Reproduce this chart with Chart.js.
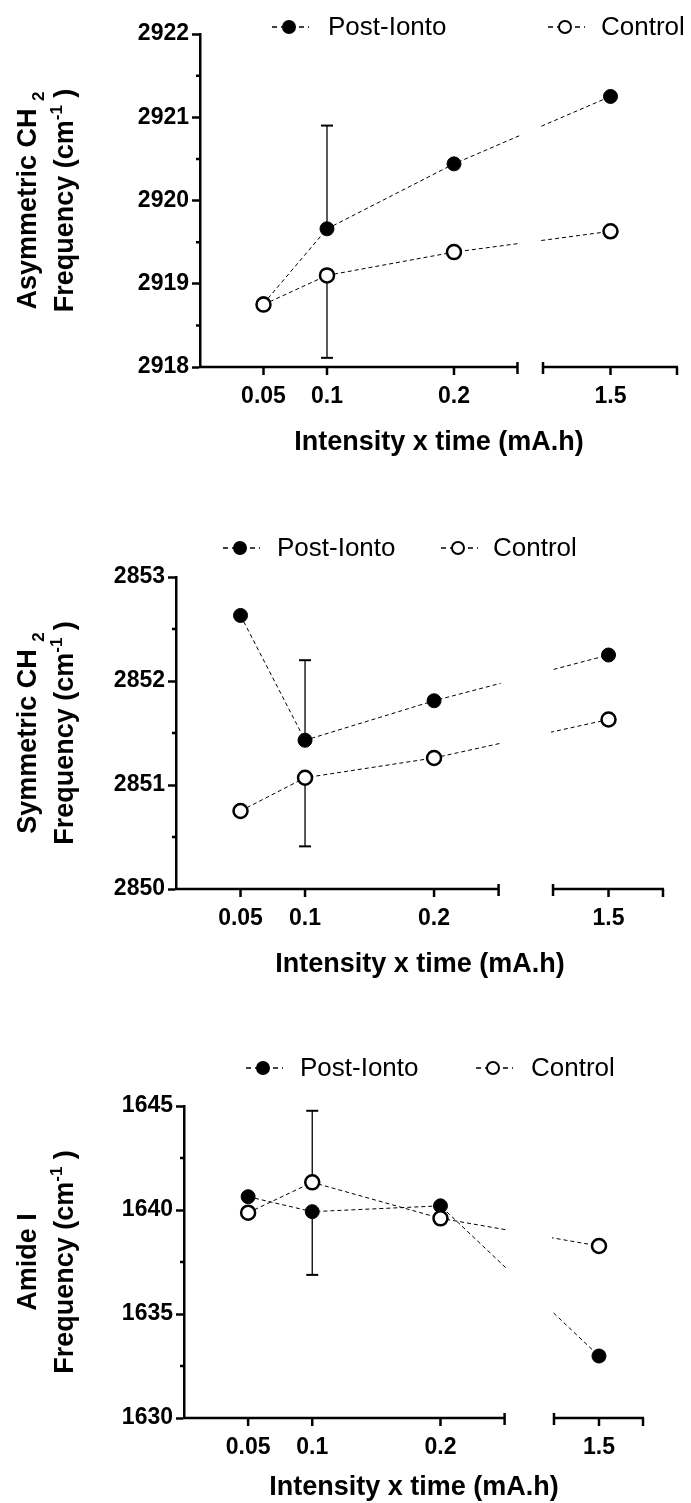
<!DOCTYPE html>
<html>
<head>
<meta charset="utf-8">
<script src="https://cdn.jsdelivr.net/npm/chart.js@4.4.1/dist/chart.umd.min.js"></script>
<style>
  html, body { margin: 0; padding: 0; background: #fff; }
  .panel { position: absolute; left: 0; width: 691px; }
</style>
</head>
<body>
<div class="panel" style="top:0px;height:470px"><canvas id="c1"></canvas></div>
<div class="panel" style="top:490px;height:510px"><canvas id="c2"></canvas></div>
<div class="panel" style="top:1010px;height:493px"><canvas id="c3"></canvas></div>
<script>
// ---- data ----
const doses = [0.05, 0.1, 0.2, 1.5];
const doseLabels = ['0.05', '0.1', '0.2', '1.5'];
const seriesNames = ['Post-Ionto', 'Control'];
const xTitle = 'Intensity x time (mA.h)';

const asymPost = [2918.76, 2919.66, 2920.44, 2921.25];
const asymCtrl = [2918.75, 2919.10, 2919.38, 2919.63];
const asymPostErr = [0, 1.24, 0, 0];    // + = bar drawn above, - = below
const asymCtrlErr = [0, -0.99, 0, 0];
const asymTicks = [2918, 2919, 2920, 2921, 2922];

const symPost = [2852.63, 2851.43, 2851.81, 2852.25];
const symCtrl = [2850.75, 2851.07, 2851.26, 2851.63];
const symPostErr = [0, 0.77, 0, 0];
const symCtrlErr = [0, -0.66, 0, 0];
const symTicks = [2850, 2851, 2852, 2853];

const amidePost = [1640.64, 1639.92, 1640.20, 1632.98];
const amideCtrl = [1639.87, 1641.33, 1639.60, 1638.27];
const amidePostErr = [0, -3.04, 0, 0];
const amideCtrlErr = [0, 3.44, 0, 0];
const amideTicks = [1630, 1635, 1640, 1645];

// ---- layout ----
const FONT = "'Liberation Sans', Arial, sans-serif";
Chart.defaults.font.family = FONT;
Chart.defaults.color = '#000';

const leftMax = 0.25;          // end of first x segment
const rightRange = [1.0, 2.0]; // range of second x segment

const panels = [
  { id: 'c1', h: 470, area: { l: 200, r: 678, t: 34, b: 367 }, gap: 0.0201, span: 0.1063,
    legendY: 27, legend: [[289, 328], [565, 601]], titleY: 443,
    post: asymPost, ctrl: asymCtrl, postErr: asymPostErr, ctrlErr: asymCtrlErr, ticks: asymTicks,
    yTitle: [[['Asymmetric CH ', 0], ['2', -1]], [['Frequency (cm', 0], ['-1', 1], [' )', 0]]] },
  { id: 'c2', h: 510, area: { l: 176, r: 664, t: 87, b: 399 }, gap: 0.0422, span: 0.0860,
    legendY: 58, legend: [[240, 277], [458, 493]], titleY: 475,
    post: symPost, ctrl: symCtrl, postErr: symPostErr, ctrlErr: symCtrlErr, ticks: symTicks,
    yTitle: [[['Symmetric CH ', 0], ['2', -1]], [['Frequency (cm', 0], ['-1', 1], [' )', 0]]] },
  { id: 'c3', h: 493, area: { l: 184, r: 644, t: 96, b: 408 }, gap: 0.0385, span: 0.0702,
    legendY: 58, legend: [[263, 300], [493, 531]], titleY: 478,
    post: amidePost, ctrl: amideCtrl, postErr: amidePostErr, ctrlErr: amideCtrlErr, ticks: amideTicks,
    yTitle: [[['Amide I', 0]], [['Frequency (cm', 0], ['-1', 1], [' )', 0]]] }
];

function toAxis(v, P) {
  if (v <= leftMax) return v;
  return leftMax + P.gap + (v - rightRange[0]) / (rightRange[1] - rightRange[0]) * P.span;
}

function drawRichRotated(ctx, parts, x, cy, size) {
  // text rotated -90deg, centred on cy, baseline at x
  const main = 'bold ' + size + 'px ' + FONT;
  const small = 'bold ' + Math.round(size * 0.62) + 'px ' + FONT;
  let total = 0;
  parts.forEach(p => { ctx.font = p[1] ? small : main; total += ctx.measureText(p[0]).width; });
  ctx.save();
  ctx.translate(x, cy);
  ctx.rotate(-Math.PI / 2);
  ctx.textBaseline = 'alphabetic';
  ctx.textAlign = 'left';
  ctx.fillStyle = '#000';
  let pos = -total / 2;
  parts.forEach(p => {
    ctx.font = p[1] ? small : main;
    const dy = p[1] === 1 ? -size * 0.42 : (p[1] === -1 ? size * 0.28 : 0);
    ctx.fillText(p[0], pos, dy);
    pos += ctx.measureText(p[0]).width;
  });
  ctx.restore();
}

function makePlugin(P) {
  return {
    id: 'brokenAxis_' + P.id,
    beforeDatasetsDraw(chart) {
      const { ctx, scales: { x, y } } = chart;
      ctx.save();
      ctx.strokeStyle = '#000';
      [[P.post, P.postErr], [P.ctrl, P.ctrlErr]].forEach(([vals, errs]) => {
        errs.forEach((e, i) => {
          if (!e) return;
          const px = x.getPixelForValue(toAxis(doses[i], P));
          const y0 = y.getPixelForValue(vals[i]);
          const y1 = y.getPixelForValue(vals[i] + e);
          ctx.lineWidth = 1.3;
          ctx.beginPath(); ctx.moveTo(px, y0); ctx.lineTo(px, y1); ctx.stroke();
          ctx.lineWidth = 2;
          ctx.beginPath(); ctx.moveTo(px - 6, y1); ctx.lineTo(px + 6, y1); ctx.stroke();
        });
      });
      ctx.restore();
    },
    afterDatasetsDraw(chart) {
      const { ctx, chartArea, scales: { x } } = chart;
      const xl = x.getPixelForValue(leftMax);
      const xr = x.getPixelForValue(leftMax + P.gap);
      ctx.save();
      ctx.fillStyle = '#fff';
      ctx.fillRect(xl + 2, chartArea.top - 10, xr - xl - 4, chartArea.bottom - chartArea.top + 8);
      ctx.restore();
    },
    afterDraw(chart) {
      const { ctx, chartArea, scales: { x, y } } = chart;
      const by = chartArea.bottom;
      const xl = x.getPixelForValue(leftMax);
      const xr = x.getPixelForValue(leftMax + P.gap);
      ctx.save();
      ctx.strokeStyle = '#000';
      ctx.lineWidth = 2.5;
      ctx.lineCap = 'butt';
      // x axis segments
      ctx.beginPath();
      ctx.moveTo(chartArea.left - 1, by); ctx.lineTo(xl, by);
      ctx.moveTo(xr, by); ctx.lineTo(chartArea.right, by);
      // break caps
      ctx.moveTo(xl, by - 5); ctx.lineTo(xl, by + 7);
      ctx.moveTo(xr, by - 5); ctx.lineTo(xr, by + 7);
      // end tick + dose ticks
      ctx.moveTo(chartArea.right - 1, by); ctx.lineTo(chartArea.right - 1, by + 8);
      doses.forEach(d => {
        const px = x.getPixelForValue(toAxis(d, P));
        ctx.moveTo(px, by); ctx.lineTo(px, by + 8);
      });
      ctx.stroke();
      // minor y ticks
      ctx.beginPath();
      for (let i = 0; i < P.ticks.length - 1; i++) {
        const py = y.getPixelForValue((P.ticks[i] + P.ticks[i + 1]) / 2);
        ctx.moveTo(chartArea.left - 4, py); ctx.lineTo(chartArea.left, py);
      }
      ctx.stroke();

      // legend
      const markers = [true, false];
      P.legend.forEach(([cx, tx], k) => {
        const ly = P.legendY;
        ctx.lineWidth = 1.3;
        ctx.setLineDash([5, 4]);
        ctx.beginPath(); ctx.moveTo(cx - 17, ly); ctx.lineTo(cx + 20, ly); ctx.stroke();
        ctx.setLineDash([]);
        ctx.lineWidth = 2;
        ctx.beginPath(); ctx.arc(cx, ly, 6, 0, Math.PI * 2);
        ctx.fillStyle = markers[k] ? '#000' : '#fff';
        ctx.fill(); ctx.stroke();
        ctx.fillStyle = '#000';
        ctx.font = '26px ' + FONT;
        ctx.textBaseline = 'middle';
        ctx.textAlign = 'left';
        ctx.fillText(seriesNames[k], tx, ly + 1);
      });
      ctx.restore();

      // y title
      const cy = (chartArea.top + chartArea.bottom) / 2;
      drawRichRotated(ctx, P.yTitle[0], 36, cy, 27);
      drawRichRotated(ctx, P.yTitle[1], 73, cy, 27);
    }
  };
}

panels.forEach(P => {
  const toPts = vals => vals.map((v, i) => ({ x: toAxis(doses[i], P), y: v }));
  const xMax = leftMax + P.gap + P.span;
  const titleSize = 27;
  const titleLH = titleSize * 1.2;
  new Chart(document.getElementById(P.id), {
    type: 'line',
    data: {
      datasets: [
        {
          label: seriesNames[1],
          data: toPts(P.ctrl),
          borderColor: '#000', borderWidth: 1, borderDash: [4, 3],
          pointRadius: 7, pointBorderWidth: 2.5,
          pointBackgroundColor: '#fff', pointBorderColor: '#000'
        },
        {
          label: seriesNames[0],
          data: toPts(P.post),
          borderColor: '#000', borderWidth: 1, borderDash: [4, 3],
          pointRadius: 7, pointBorderWidth: 1,
          pointBackgroundColor: '#000', pointBorderColor: '#000'
        }
      ]
    },
    options: {
      responsive: true,
      maintainAspectRatio: false,
      animation: false,
      devicePixelRatio: 1,
      layout: { padding: { left: 0, top: P.area.t, right: 691 - P.area.r, bottom: 0 } },
      scales: {
        x: {
          type: 'linear', min: 0, max: xMax,
          border: { display: false },
          grid: { display: false, drawTicks: false, tickLength: 0 },
          afterBuildTicks: s => { s.ticks = doses.map(d => ({ value: toAxis(d, P) })); },
          afterFit: s => { s.height = P.h - P.area.b; },
          ticks: {
            autoSkip: false, maxRotation: 0, padding: 16,
            font: { size: 23, weight: 'bold' },
            callback: (v, i) => doseLabels[i]
          },
          title: {
            display: true, text: xTitle,
            font: { size: titleSize, weight: 'bold' },
            padding: { top: 0, bottom: P.h - P.titleY - titleLH / 2 }
          }
        },
        y: {
          min: P.ticks[0], max: P.ticks[P.ticks.length - 1],
          border: { display: true, color: '#000', width: 2.5 },
          grid: { drawOnChartArea: false, drawTicks: true, tickLength: 8, tickWidth: 2.5, tickColor: '#000' },
          afterFit: s => { s.width = P.area.l; },
          afterBuildTicks: s => { s.ticks = P.ticks.map(v => ({ value: v })); },
          ticks: {
            autoSkip: false, padding: 3,
            font: { size: 23, weight: 'bold' },
            callback: v => String(v)
          }
        }
      },
      plugins: { legend: { display: false }, tooltip: { enabled: false } }
    },
    plugins: [makePlugin(P)]
  });
});
</script>
</body>
</html>
